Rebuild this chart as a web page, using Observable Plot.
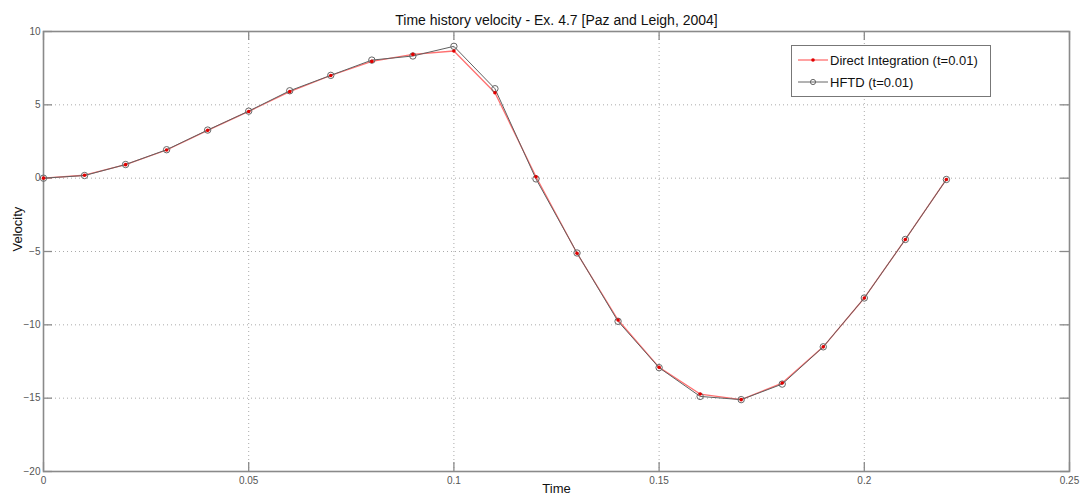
<!DOCTYPE html>
<html>
<head>
<meta charset="utf-8">
<script src="https://cdn.jsdelivr.net/npm/d3@7"></script>
<script src="https://cdn.jsdelivr.net/npm/@observablehq/plot@0.6"></script>
<style>
  html, body { margin: 0; padding: 0; background: #fff; }
  #wrap { position: relative; width: 1083px; height: 499px; font-family: "Liberation Sans", Arial, sans-serif; }
  #legend { position: absolute; left: 791px; top: 45px; width: 200px; height: 52px; border: 1px solid #777; background: #fff; box-sizing: border-box; font-size: 13px; color: #111; }
  #legend .row { position: absolute; left: 0; height: 16px; display: flex; align-items: center; }
  #legend svg { display: block; }
</style>
</head>
<body>
<div id="wrap"></div>
<script>
const time = [0, 0.01, 0.02, 0.03, 0.04, 0.05, 0.06, 0.07, 0.08, 0.09, 0.10, 0.11,
              0.12, 0.13, 0.14, 0.15, 0.16, 0.17, 0.18, 0.19, 0.20, 0.21, 0.22];
const directIntegration = [0, 0.2, 0.92, 1.92, 3.26, 4.55, 5.9, 7.0, 7.96, 8.44, 8.67, 5.82,
                           0.1, -5.12, -9.67, -12.9, -14.72, -15.1, -13.97, -11.5, -8.17, -4.18, -0.09];
const hftd = [0, 0.18, 0.93, 1.94, 3.28, 4.57, 5.96, 7.01, 8.05, 8.33, 8.99, 6.1,
              -0.05, -5.1, -9.76, -12.92, -14.88, -15.1, -14.04, -11.5, -8.17, -4.18, -0.09];
const xTicks = [0, 0.05, 0.1, 0.15, 0.2, 0.25];
const yTicks = [-20, -15, -10, -5, 0, 5, 10];
const xTickLabels = ["0", "0.05", "0.1", "0.15", "0.2", "0.25"];
const seriesNames = ["Direct Integration (t=0.01)", "HFTD (t=0.01)"];
const titleText = "Time history velocity - Ex. 4.7 [Paz and Leigh, 2004]";

const di = time.map((t, i) => ({t, v: directIntegration[i]}));
const hf = time.map((t, i) => ({t, v: hftd[i]}));

const W = 1083, H = 499, mL = 43, mR = 14, mT = 31, mB = 28;
const pw = W - mL - mR, ph = H - mT - mB, tk = 9;
const axisColor = "#8a8a8a";

const chart = Plot.plot({
  width: W, height: H,
  marginLeft: mL, marginRight: mR, marginTop: mT, marginBottom: mB,
  style: {fontFamily: "Liberation Sans, Arial, sans-serif", background: "#fff", overflow: "visible"},
  x: {domain: [0, 0.25], ticks: xTicks},
  y: {domain: [-20, 10], ticks: yTicks},
  marks: [
    Plot.gridX(xTicks.slice(1, -1), {stroke: "#aaa", strokeOpacity: 1, strokeDasharray: "1,3"}),
    Plot.gridY(yTicks.slice(1, -1), {stroke: "#aaa", strokeOpacity: 1, strokeDasharray: "1,3"}),
    // inward ticks, all four sides
    Plot.tickX(xTicks, {x: d => d, insetTop: ph - tk, stroke: axisColor, strokeWidth: 1.3}),
    Plot.tickX(xTicks, {x: d => d, insetBottom: ph - tk, stroke: axisColor, strokeWidth: 1.3}),
    Plot.tickY(yTicks, {y: d => d, insetRight: pw - tk, stroke: axisColor, strokeWidth: 1.3}),
    Plot.tickY(yTicks, {y: d => d, insetLeft: pw - tk, stroke: axisColor, strokeWidth: 1.3}),
    Plot.frame({stroke: axisColor, strokeWidth: 1.6}),
    Plot.axisX(xTicks, {tickSize: 0, tickPadding: 5, tickFormat: (d, i) => xTickLabels[i], fontSize: 10, fill: "#555", label: null}),
    Plot.axisY(yTicks, {tickSize: 0, tickPadding: 3, fontSize: 10, fill: "#555", label: null}),
    // data
    Plot.line(di, {x: "t", y: "v", stroke: "#ff7070", strokeWidth: 1.3}),
    Plot.line(hf, {x: "t", y: "v", stroke: "#606060", strokeWidth: 1}),
    Plot.dot(hf, {x: "t", y: "v", r: 3.2, stroke: "#666", strokeWidth: 1, fill: "none"}),
    Plot.dot(di, {x: "t", y: "v", r: 1.8, fill: "#e00000", stroke: "none"}),
    // titles
    Plot.text([titleText], {frameAnchor: "top", dy: -16, fontSize: 14, fill: "#111"}),
    Plot.text(["Time"], {frameAnchor: "bottom", dy: 21, fontSize: 13, fill: "#111"}),
    Plot.text(["Velocity"], {frameAnchor: "left", dx: -26, rotate: -90, fontSize: 13, fill: "#111"})
  ]
});

const wrap = document.getElementById("wrap");
wrap.appendChild(chart);

// legend
const legend = document.createElement("div");
legend.id = "legend";
const styles = [
  {line: "#ff7070", lw: 1.3, marker: "dot"},
  {line: "#666", lw: 1, marker: "circle"}
];
seriesNames.forEach((name, i) => {
  const row = document.createElement("div");
  row.className = "row";
  row.style.top = (6 + i * 22) + "px";
  const s = styles[i];
  const mk = s.marker === "dot"
    ? `<circle cx="21" cy="8" r="1.8" fill="#e00000"/>`
    : `<circle cx="21" cy="8" r="2.6" fill="none" stroke="#666" stroke-width="1"/>`;
  row.innerHTML = `<svg width="38" height="16"><line x1="6" x2="36" y1="8" y2="8" stroke="${s.line}" stroke-width="${s.lw}"/>${mk}</svg><span>${name}</span>`;
  legend.appendChild(row);
});
wrap.appendChild(legend);
</script>
</body>
</html>
